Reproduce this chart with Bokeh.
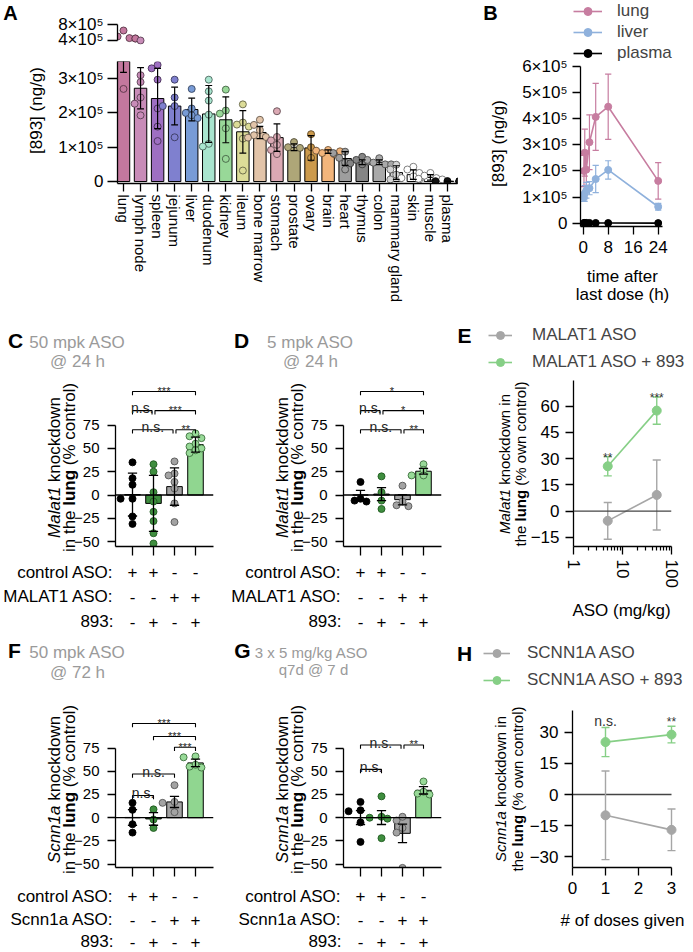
import math
import numpy as np
from bokeh.plotting import figure
from bokeh.layouts import row, column
from bokeh.models import Range1d, FixedTicker, Legend, LegendItem, Span
from bokeh.core.properties import value
from bokeh.embed import file_html
from bokeh.resources import INLINE

FONT = "Liberation Sans"

# ============================ DATA ============================
# ---- A: [893] in tissues (ng/g)
organs = ["lung", "lymph node", "spleen", "jejunum", "liver", "duodenum", "kidney", "ileum",
          "bone marrow", "stomach", "prostate", "ovary", "brain", "heart", "thymus", "colon",
          "mammary gland", "skin", "muscle", "plasma"]
organ_mean = [4.63e5, 2.72e5, 2.42e5, 2.2e5, 2.1e5, 1.97e5, 1.8e5, 1.45e5, 1.43e5, 1.28e5,
              1.0e5, 0.98e5, 0.87e5, 0.67e5, 0.56e5, 0.56e5, 0.26e5, 0.2e5, 0.12e5, 0.01e5]
organ_sd = [1.45e5, 0.6e5, 0.88e5, 0.55e5, 0.33e5, 0.83e5, 0.67e5, 0.62e5, 0.18e5, 0.4e5,
            0.1e5, 0.36e5, 0.05e5, 0.2e5, 0.07e5, 0.07e5, 0.2e5, 0.14e5, 0.08e5, 0.005e5]
organ_points = [
    [6.5e5, 5.0e5, 4.6e5, 4.5e5, 4.5e5, 2.7e5],
    [4.0e5, 3.1e5, 2.9e5, 2.45e5, 2.27e5, 1.93e5],
    [3.4e5, 3.3e5, 2.97e5, 2.13e5, 1.6e5, 1.18e5],
    [2.97e5, 2.45e5, 2.2e5, 2.2e5, 1.29e5],
    [2.7e5, 2.13e5, 2.0e5, 1.93e5, 1.85e5],
    [2.97e5, 2.63e5, 2.36e5, 1.95e5, 1.1e5, 1.02e5],
    [2.68e5, 2.07e5, 1.98e5, 1.55e5, 0.66e5],
    [2.25e5, 1.72e5, 1.66e5, 1.6e5, 1.25e5, 0.32e5],
    [1.8e5, 1.65e5, 1.5e5, 1.35e5, 1.3e5, 1.28e5],
    [2.05e5, 1.3e5, 1.2e5, 1.07e5, 0.92e5, 0.8e5],
    [1.15e5, 1.0e5, 0.98e5],
    [1.38e5, 1.0e5, 0.69e5],
    [0.92e5, 0.9e5, 0.88e5, 0.83e5, 0.8e5],
    [0.87e5, 0.83e5, 0.69e5, 0.55e5, 0.35e5],
    [0.72e5, 0.63e5, 0.58e5, 0.53e5, 0.5e5],
    [0.68e5, 0.63e5, 0.55e5, 0.5e5, 0.5e5],
    [0.49e5, 0.35e5, 0.2e5, 0.06e5],
    [0.43e5, 0.35e5, 0.25e5, 0.15e5, 0.1e5, 0.06e5],
    [0.25e5, 0.17e5, 0.1e5, 0.08e5, 0.06e5],
    [0.012e5, 0.01e5, 0.01e5, 0.008e5, 0.01e5],
]
organ_colors = ["#c4789e", "#c88cb8", "#9e6fc2", "#7f80cf", "#789bd6", "#a9e5cf", "#98d898",
                "#dcdc98", "#e2c4a9", "#dba9b4", "#aea678", "#cc9a4c", "#f2b57b", "#9e9e9e",
                "#858585", "#a9a9a9", "#d4d4d4", "#ffffff", "#ffffff", "#111111"]
a_ticks_low = [0, 1e5, 2e5, 3e5]
a_labels_low = ["0", "1×10⁵", "2×10⁵", "3×10⁵"]
a_ticks_high = [4e5, 8e5]
a_labels_high = ["4×10⁵", "8×10⁵"]

# ---- B: time course (ng/g)
time_h = [0.25, 0.5, 1, 2, 4, 8, 24]
lung_mean = [2.0e5, 2.7e5, 2.05e5, 3.1e5, 4.07e5, 4.46e5, 1.62e5]
lung_sd = [0.6e5, 0.9e5, 0.6e5, 1.05e5, 1.28e5, 1.25e5, 0.7e5]
liver_mean = [0.98e5, 1.14e5, 1.26e5, 1.34e5, 1.69e5, 2.04e5, 0.63e5]
liver_sd = [0.15e5, 0.3e5, 0.3e5, 0.25e5, 0.52e5, 0.35e5, 0.13e5]
plasma_mean = [1.2e3, 1.0e3, 1.1e3, 0.9e3, 0.8e3, 0.6e3, 0.3e3]
plasma_sd = [0.5e3, 0.5e3, 0.5e3, 0.4e3, 0.4e3, 0.3e3, 0.2e3]
b_series = ["lung", "liver", "plasma"]
b_y_ticks = [0, 1e5, 2e5, 3e5, 4e5, 5e5, 6e5]
b_y_labels = ["0", "1×10⁵", "2×10⁵", "3×10⁵", "4×10⁵", "5×10⁵", "6×10⁵"]
b_x_ticks = [0, 8, 16, 24]

# ---- C-D / F-G: group design
control_aso = ["+", "+", "-", "-"]
target_aso = ["-", "-", "+", "+"]
drug_893 = ["-", "+", "-", "+"]

c_mean = [0.5, -9.0, 9.0, 54.0]
c_sd = [23.0, 30.0, 20.0, 8.0]
c_points = [[35, 18, 11, -4, -4, -23, -31], [33, 25, 3, -7, -18, -28, -41, -52],
            [36, 23, 21, 14, 7, -9, -29], [66, 63, 61, 55, 52, 50, 48, 45]]
c_sig = [(0, 3, "***"), (0, 1, "n.s."), (1, 3, "***"), (0, 2, "n.s."), (2, 3, "**")]

d_mean = [0.0, 1.0, -5.0, 25.5]
d_sd = [5.0, 7.0, 5.5, 3.0]
d_points = [[14, -4, -6, -7], [20, 3, -6, -15], [10, -7, -11, -12], [33, 27, 21, 21]]
d_sig = [(0, 3, "*"), (0, 1, "n.s."), (1, 3, "*"), (0, 2, "n.s."), (2, 3, "**")]

f_mean = [0.3, -1.3, 17.0, 59.0]
f_sd = [8.5, 6.8, 6.0, 4.0]
f_points = [[16, 8.5, -7, -16], [9, -2, -11], [35, 17, 16, 6], [66, 65, 57, 55, 54]]
f_sig = [(0, 3, "***"), (1, 3, "***"), (2, 3, "***"), (0, 2, "n.s."), (0, 1, "n.s.")]

g_mean = [0.2, 0.2, -16.8, 29.5]
g_sd = [7.5, 7.5, 10.0, 4.0]
g_points = [[17, 8, 7, -5, -26], [23, 1, 0, -1, -22], [1, -3, -11, -16, -54], [39, 28, 26, 25]]
g_sig = [(0, 2, "n.s."), (2, 3, "**"), (0, 1, "n.s.")]

bar_y_ticks = [-50, -25, 0, 25, 50, 75]

# ---- E: dose response
e_dose = [5, 50]
e_aso_mean = [-5.5, 9.3]
e_aso_sd = [10.5, 20.0]
e_combo_mean = [25.7, 57.5]
e_combo_sd = [5.5, 7.8]
e_sig = ["**", "***"]
e_names = ["MALAT1 ASO", "MALAT1 ASO + 893"]
e_y_ticks = [-15, 0, 15, 30, 45, 60]

# ---- H: number of doses
h_doses = [1, 3]
h_aso_mean = [-10.0, -17.0]
h_aso_sd = [21.3, 10.0]
h_combo_mean = [25.2, 28.8]
h_combo_sd = [7.0, 4.0]
h_sig = ["n.s.", "**"]
h_names = ["SCNN1A ASO", "SCNN1A ASO + 893"]
h_y_ticks = [-30, -15, 0, 15, 30]
h_x_ticks = [0, 1, 2, 3]

# ============================ STYLE ============================
GRAY_T = "#9a9a9a"
GROUP_BAR = ["#111111", "#3f8e3f", "#a3a3a3", "#90d690"]
GROUP_DOT = ["#000000", "#3f8e3f", "#a3a3a3", "#98da98"]
GROUP_EDGE = ["#000000", "#1f5a1f", "#555555", "#3c6e3c"]
LINE_GRAY = "#a6a6a6"
LINE_GREEN = "#86cf86"
B_COLORS = ["#c77da0", "#8fb1dc", "#000000"]
PAGE_W, PAGE_H = 693, 952

W_REG = {' ': 278, '!': 278, '#': 556, '%': 889, '(': 333, ')': 333, '+': 584, '.': 278,
         '/': 278, ':': 278, '@': 1015, '-': 333, '[': 278, ']': 278, '×': 584,
         'A': 667, 'B': 667, 'C': 722, 'D': 722, 'E': 667, 'F': 611, 'G': 778, 'H': 722,
         'I': 278, 'K': 667, 'L': 556, 'M': 833, 'N': 722, 'O': 778, 'P': 667, 'S': 667,
         'T': 611, 'a': 556, 'b': 556, 'c': 500, 'd': 556, 'e': 556, 'f': 278, 'g': 556,
         'h': 556, 'i': 222, 'k': 500, 'l': 222, 'm': 833, 'n': 556, 'o': 556, 'p': 556,
         'r': 333, 's': 500, 't': 278, 'u': 556, 'w': 722, 'y': 500}
W_BOLD = {'l': 278, 'u': 611, 'n': 611, 'g': 611}


def tw(t, st, size):
    tot = 0
    for ch in t:
        if st == "bold" and ch in W_BOLD:
            tot += W_BOLD[ch]
        else:
            tot += W_REG.get(ch, 556)
    return tot * size / 1000.0


def darken(hx, f=0.5):
    hx = hx.lstrip('#')
    r, g, b = int(hx[0:2], 16), int(hx[2:4], 16), int(hx[4:6], 16)
    return "#%02x%02x%02x" % (int(r * f), int(g * f), int(b * f))


def swarm(vals, ppu_y, ppu_x, diam=7.0, kmax=2):
    order = np.argsort(-np.asarray(vals))
    placed = []
    offs = np.zeros(len(vals))
    step = diam * 0.85
    cands = [0]
    for k in range(1, kmax + 1):
        cands += [-k, k]
    for i in order:
        py = vals[i] * ppu_y
        best = cands[-1] * step
        for c in cands:
            px = c * step
            if all((px - qx) ** 2 + (py - qy) ** 2 >= (diam * 0.9) ** 2 for qx, qy in placed):
                best = px
                break
        placed.append((best, py))
        offs[i] = best / ppu_x
    return offs


def mkfig(g, xr, yr, x_axis=True, x_log=False, tick_size=16):
    kw = dict(width=g["W"], height=g["H"], x_range=xr, y_range=yr,
              output_backend="svg", toolbar_location=None,
              min_border_left=g["fl"], min_border_right=g["W"] - g["fr"],
              min_border_top=g["ft"], min_border_bottom=g["H"] - g["fb"])
    if x_log:
        kw["x_axis_type"] = "log"
    if not x_axis:
        kw["x_axis_location"] = None
    p = figure(**kw)
    p.outline_line_color = None
    p.grid.visible = False
    p.background_fill_color = "white"
    p.border_fill_color = "white"
    for ax in p.axis:
        ax.axis_line_color = "black"
        ax.axis_line_width = 1.3
        ax.major_tick_line_color = "black"
        ax.major_tick_line_width = 1.3
        ax.major_tick_in = 0
        ax.major_tick_out = 8
        ax.minor_tick_line_color = None
        ax.major_label_text_font = FONT
        ax.major_label_text_font_size = f"{tick_size}px"
        ax.major_label_text_color = "black"
    return p


def errbars(p, x, m, s, cw, color, width=1.3, log=False):
    x = np.asarray(x, float)
    m = np.asarray(m, float)
    s = np.asarray(s, float)
    if log:
        xl, xr_ = x / cw, x * cw
    else:
        xl, xr_ = x - cw, x + cw
    p.segment(x, m - s, x, m + s, line_color=color, line_width=width)
    p.segment(xl, m + s, xr_, m + s, line_color=color, line_width=width)
    p.segment(xl, m - s, xr_, m - s, line_color=color, line_width=width)


# ---- transparent overlay figure that carries the texts outside the plot frames
ov = figure(width=PAGE_W, height=PAGE_H, x_range=Range1d(0, PAGE_W), y_range=Range1d(0, PAGE_H),
            output_backend="svg", toolbar_location=None, min_border=0,
            x_axis_location=None, y_axis_location=None)
ov.outline_line_color = None
ov.grid.visible = False
ov.background_fill_alpha = 0
ov.border_fill_alpha = 0
ov.margin = (-PAGE_H, 0, 0, 0)


def T(cx, cy, text, size=17, align="center", style="normal", color="black", angle=0.0):
    ov.text(x=[cx], y=[PAGE_H - cy], text=[text], text_font=value(FONT),
            text_font_size=value(f"{size}px"), text_font_style=value(style),
            text_color=value(color), text_align=value(align), text_baseline=value("middle"),
            angle=angle)


def TV(cx, cy, segs, size):
    total = sum(tw(t, st, size) for t, st in segs)
    pos = cy + total / 2.0
    for t, st in segs:
        lead = len(t) - len(t.lstrip(' '))
        trail = len(t) - len(t.rstrip(' '))
        pos -= lead * 0.278 * size
        core = t.strip(' ')
        T(cx, pos, core, size, align="left", style=st, angle=math.pi / 2)
        pos -= tw(core, st, size)
        pos -= trail * 0.278 * size


def LEG(x_left, y_top, names, colors, glyph_w, standoff, size, spacing, msize):
    items = []
    for n, c in zip(names, colors):
        # legend keys (drawn off-page; only their styles are shown in the legend)
        rl = ov.line(x=[-60, -50], y=[-60, -60], line_color=c, line_width=1.6)
        rs = ov.scatter(x=[-55], y=[-60], size=msize, fill_color=c, line_color=c)
        items.append(LegendItem(label=n, renderers=[rl, rs]))
    h = len(names) * 20 + (len(names) - 1) * spacing
    ov.add_layout(Legend(items=items, location=(x_left, PAGE_H - (y_top + h)), padding=0,
                         margin=0, spacing=spacing, glyph_width=glyph_w, glyph_height=20,
                         label_height=20, label_standoff=standoff, label_text_font=FONT,
                         label_text_font_size=f"{size}px", border_line_color=None,
                         background_fill_alpha=0))


# ============================ PANEL A ============================
sp_a = 17.05
xa0 = -6.0 / sp_a
xr_a = Range1d(xa0, xa0 + 340.0 / sp_a)
gAt = dict(W=470, H=48, fl=117, fr=457, ft=22, fb=44)
gAb = dict(W=470, H=257, fl=117, fr=457, ft=13, fb=136)
sct = 16.0 / 4e5
pAt = mkfig(gAt, xr_a, Range1d(4e5 - 4 / sct, 8e5 + 2 / sct), x_axis=False, tick_size=17)
scb = 121.0 / 3.5e5
pAb = mkfig(gAb, xr_a, Range1d(-2.0 / scb, 3.5e5), tick_size=17)

idx_a = np.arange(len(organs))
pAb.vbar(x=idx_a, bottom=0, top=organ_mean, width=0.73, fill_color=organ_colors,
         line_color="black", line_width=1)
for i, pts in enumerate(organ_points):
    v = np.asarray(pts, float)
    edge = darken(organ_colors[i], 0.45)
    lo = v[v < 3.5e5]
    hi = v[v >= 3.9e5]
    if len(lo):
        pAb.scatter(i + swarm(lo, scb, sp_a, 7.0, 2), lo, size=7, fill_color=organ_colors[i],
                    line_color=edge, line_width=0.9)
    if len(hi):
        pAt.scatter(i + swarm(hi, sct, sp_a, 7.0, 2), hi, size=7, fill_color=organ_colors[i],
                    line_color=edge, line_width=0.9)
errbars(pAb, idx_a, organ_mean, organ_sd, 0.2, "black", 1.2)

ax = pAb.yaxis[0]
ax.ticker = FixedTicker(ticks=a_ticks_low)
ax.major_label_overrides = {int(t): l for t, l in zip(a_ticks_low, a_labels_low)}
ax.bounds = (-2.0 / scb, 3.5e5)
ax.major_tick_out = 10
ax.major_label_standoff = 4
ax = pAt.yaxis[0]
ax.ticker = FixedTicker(ticks=a_ticks_high)
ax.major_label_overrides = {int(t): l for t, l in zip(a_ticks_high, a_labels_high)}
ax.bounds = (4e5, 8e5)
ax.major_tick_out = 10
ax.major_label_standoff = 4
ax = pAb.xaxis[0]
ax.ticker = FixedTicker(ticks=[int(i) for i in idx_a])
ax.major_label_overrides = {int(i): o for i, o in zip(idx_a, organs)}
ax.major_label_orientation = "vertical"
ax.major_label_text_font_size = "15px"
ax.major_tick_out = 8
ax.major_label_standoff = 3

T(10, 12, "A", 20, style="bold")
T(36, 110, "[893] (ng/g)", 17, angle=math.pi / 2)

# ============================ PANEL B ============================
BX = 470
gB = dict(W=223, H=305, fl=110, fr=192, ft=63, fb=226)
b_y0, b_sc, b_x0, b_sx = 222.7, 26.12 / 1e5, 112.7, 3.125
pB = mkfig(gB, Range1d((gB["fl"] - b_x0) / b_sx, (gB["fr"] - b_x0) / b_sx),
           Range1d(-(gB["fb"] - b_y0) / b_sc, (b_y0 - gB["ft"]) / b_sc), tick_size=17)
for name, mm, ss, col in zip(b_series, [lung_mean, liver_mean, plasma_mean],
                             [lung_sd, liver_sd, plasma_sd], B_COLORS):
    errbars(pB, time_h, mm, ss, 1.0, col, 1.2)
    pB.line(time_h, mm, line_color=col, line_width=1.6)
    pB.scatter(time_h, mm, size=7, fill_color=col, line_color=col)
ax = pB.yaxis[0]
ax.ticker = FixedTicker(ticks=b_y_ticks)
ax.major_label_overrides = {int(t): l for t, l in zip(b_y_ticks, b_y_labels)}
ax.bounds = (-(gB["fb"] - b_y0) / b_sc, 6e5)
ax.major_label_standoff = 5
ax = pB.xaxis[0]
ax.ticker = FixedTicker(ticks=b_x_ticks)
ax.major_label_standoff = 6
T(490, 12, "B", 20, style="bold")
T(498, 143, "[893] (ng/g)", 17, angle=math.pi / 2)
T(622, 276, "time after", 17)
T(622, 294, "last dose (h)", 17)
LEG(573, 1, b_series, B_COLORS, 29, 15, 17, 1, 7)


# ============================ BAR PANELS ============================
def bar_panel(g, ox, oy, means, sds, points, sig, sig_levels, rownames, ylab1, ylab2,
              title, title_size, letter):
    sp = 21.0
    xs = -17.0 / sp
    xe = xs + (g["fr"] - g["fl"]) / sp
    sc = g["sc"]
    ys = -(g["fb"] - g["y0"]) / sc
    ye = (g["y0"] - g["ft"]) / sc
    p = mkfig(g, Range1d(xs, xe), Range1d(ys, ye), tick_size=15)
    idx = np.arange(len(means))
    m = np.asarray(means, float)
    p.add_layout(Span(location=0, dimension="width", line_color="black", line_width=1.3))
    p.vbar(x=idx, bottom=0, top=m, width=0.74, fill_color=GROUP_BAR, line_color="black",
           line_width=1)
    for i, vals in enumerate(points):
        v = np.asarray(vals, float)
        p.scatter(i + swarm(v, sc, sp, 7.0, 2), v, size=7, fill_color=GROUP_DOT[i],
                  line_color=GROUP_EDGE[i], line_width=0.9)
    errbars(p, idx, means, sds, 0.22, "black", 1.3)
    tick = 5.0 / sc
    for (i, j, txt), lev in zip(sig, sig_levels):
        x0, x1 = float(i), float(j)
        if any(b[0] == j and l2 == lev for b, l2 in zip(sig, sig_levels)):
            x1 -= 0.07
        if any(b[1] == i and l2 == lev for b, l2 in zip(sig, sig_levels)):
            x0 += 0.07
        p.line([x0, x0, x1, x1], [lev - tick, lev, lev, lev - tick], line_color="black",
               line_width=1.1)
        if txt == "n.s.":
            ty, size = lev + 3.0 / sc, 14
        else:
            ty, size = lev + 1.0 / sc, 11
        p.text(x=[(x0 + x1) / 2], y=[ty], text=[txt], text_font=value(FONT),
               text_font_size=value(f"{size}px"), text_align=value("center"),
               text_baseline=value("alphabetic"), text_color=value("#222222"))
    ax = p.yaxis[0]
    ax.ticker = FixedTicker(ticks=bar_y_ticks)
    ax.bounds = (ys, 75)
    ax.major_label_standoff = 8
    signs = [control_aso, target_aso, drug_893]
    ax = p.xaxis[0]
    ax.ticker = FixedTicker(ticks=[int(i) for i in idx])
    ax.major_label_overrides = {int(i): t for i, t in zip(idx, signs[0])}
    ax.major_tick_out = 9
    ax.major_label_standoff = g["std"]
    ax.major_label_text_font_size = "17px"
    # further rows of the design table, aligned with the category positions
    for r in (1, 2):
        for i, t in zip(idx, signs[r]):
            T(ox + g["fl"] + (i - xs) * sp, oy + g["rows"][r], t, 17)
    for r, name in enumerate(rownames):
        T(ox + g["rowx"], oy + g["rows"][r], name, 17, align="right")
    TV(ox + g["yl1"], oy + g["ylc"], ylab1, 17)
    TV(ox + g["yl2"], oy + g["ylc"], ylab2, 17)
    for k, line in enumerate(title):
        T(ox + g["tcx"][k], oy + g["ty"][k], line, title_size, color=GRAY_T)
    T(ox + g["lx"], oy + g["ly"], letter, 21, style="bold")
    return p


ylab_malat = ([("Malat1", "italic"), (" knockdown", "normal")],
              [("in the ", "normal"), ("lung", "bold"), (" (% control)", "normal")])
ylab_scnn = ([("Scnn1a", "italic"), (" knockdown", "normal")],
             [("in the ", "normal"), ("lung", "bold"), (" (% control)", "normal")])

gC = dict(W=228, H=327, fl=115, fr=213, ft=25, fb=241, y0=174, sc=91 / 75.0,
          rows=[267, 291, 316], rowx=113, std=10, yl1=54, yl2=69, ylc=162,
          tcx=[77, 77], ty=[37, 56], lx=15, ly=35)
pC = bar_panel(gC, 0, 305, c_mean, c_sd, c_points, c_sig, [111, 90.5, 90.5, 70, 70],
               ["control ASO:", "MALAT1 ASO:", "893:"], ylab_malat[0], ylab_malat[1],
               ["50 mpk ASO", "@ 24 h"], 17, "C")
gD = dict(gC)
gD.update(tcx=[82, 82], lx=13)
pD = bar_panel(gD, 228, 305, d_mean, d_sd, d_points, d_sig, [111, 90.5, 90.5, 70, 70],
               ["control ASO:", "MALAT1 ASO:", "893:"], ylab_malat[0], ylab_malat[1],
               ["5 mpk ASO", "@ 24 h"], 17, "D")
gF = dict(W=228, H=320, fl=115, fr=213, ft=30, fb=235, y0=170, sc=91 / 75.0,
          rows=[264, 287, 309], rowx=113, std=13, yl1=54, yl2=69, ylc=157,
          tcx=[77, 77], ty=[20, 40], lx=14, ly=18)
pF = bar_panel(gF, 0, 632, f_mean, f_sd, f_points, f_sig, [101.4, 87.4, 75.8, 47, 23.9],
               ["control ASO:", "Scnn1a ASO:", "893:"], ylab_scnn[0], ylab_scnn[1],
               ["50 mpk ASO", "@ 72 h"], 17, "F")
gG = dict(gF)
gG.update(tcx=[83, 85], ty=[20, 37], lx=14)
pG = bar_panel(gG, 228, 632, g_mean, g_sd, g_points, g_sig, [78.3, 78.3, 52],
               ["control ASO:", "Scnn1a ASO:", "893:"], ylab_scnn[0], ylab_scnn[1],
               ["3 x 5 mg/kg ASO", "q7d @ 7 d"], 15, "G")


# ============================ LINE PANELS ============================
def line_panel(g, ox, oy, xv, m1, s1, m2, s2, sig, sig_dy, names, ylab1, ylab2, xlabel,
               letter, xr, x_log, cw):
    sc = g["sc"]
    p = mkfig(g, xr, Range1d(-(g["fb"] - g["y0"]) / sc, (g["y0"] - g["ft"]) / sc),
              x_log=x_log, tick_size=17)
    if x_log:
        p.add_layout(Span(location=0, dimension="width", line_color="#444444", line_width=1.3))
    else:
        p.segment(x0=[0], y0=[0], x1=[3], y1=[0], line_color="#444444", line_width=1.3)
    for mm, ss, col in ((m1, s1, LINE_GRAY), (m2, s2, LINE_GREEN)):
        errbars(p, xv, mm, ss, cw, col, 1.4, log=x_log)
        p.line(xv, mm, line_color=col, line_width=1.6)
        p.scatter(xv, mm, size=9, fill_color=col, line_color=col)
    top = np.asarray(m2, float) + np.asarray(s2, float)
    for x, t, txt in zip(xv, top, sig):
        if txt == "n.s.":
            base, size = t + (sig_dy - 3.5) / sc, 14
        else:
            base, size = t + (sig_dy - 6.0) / sc, 12
        p.text(x=[x], y=[base], text=[txt], text_font=value(FONT),
               text_font_size=value(f"{size}px"), text_align=value("center"),
               text_baseline=value("alphabetic"), text_color=value("#333333"))
    LEG(ox + g["lgx"], oy + g["lgy"], names, [LINE_GRAY, LINE_GREEN], g["lgw"], g["lgs"],
        17, 7, 9)
    TV(ox + g["yl1"], oy + g["ylc"], ylab1, 15)
    TV(ox + g["yl2"], oy + g["ylc"], ylab2, 15)
    T(ox + g["xlx"], oy + g["xly"], xlabel, 17)
    T(ox + g["lx"], oy + g["ly"], letter, 21, style="bold")
    return p


gE = dict(W=237, H=327, fl=117, fr=215, ft=75, fb=242, y0=206.5, sc=26.4 / 15,
          lgx=32, lgy=20, lgw=24, lgs=20, yl1=48, yl2=64, ylc=158.5, xlx=165, xly=305,
          lx=8, ly=30)
pE = line_panel(gE, 456, 305, e_dose, e_aso_mean, e_aso_sd, e_combo_mean, e_combo_sd, e_sig,
                5, e_names,
                [("Malat1", "italic"), (" knockdown in", "normal")],
                [("the ", "normal"), ("lung", "bold"), (" (% own control)", "normal")],
                "ASO (mg/kg)", "E", Range1d(1, 100), True, 10 ** (4 / 48.5))
ax = pE.xaxis[0]
ax.ticker = FixedTicker(ticks=[1, 10, 100],
                        minor_ticks=[2, 3, 4, 5, 6, 7, 8, 9, 20, 30, 40, 50, 60, 70, 80, 90])
ax.major_label_overrides = {1: "1", 10: "10", 100: "100"}
ax.major_label_orientation = "vertical"
ax.minor_tick_line_color = "black"
ax.minor_tick_line_width = 1.2
ax.minor_tick_in = 0
ax.minor_tick_out = 4
ax.major_label_standoff = 5
ax = pE.yaxis[0]
ax.ticker = FixedTicker(ticks=e_y_ticks)
ax.major_label_standoff = 6

gH = dict(W=237, H=320, fl=116, fr=223, ft=78, fb=235, y0=162, sc=31.2 / 15,
          lgx=27, lgy=11, lgw=27, lgs=17, yl1=44, yl2=61, ylc=156.5, xlx=166, xly=288,
          lx=8, ly=21)
h_sx = 33.0
pH = line_panel(gH, 456, 632, h_doses, h_aso_mean, h_aso_sd, h_combo_mean, h_combo_sd,
                h_sig, 10, h_names,
                [("Scnn1a", "italic"), (" knockdown in", "normal")],
                [("the ", "normal"), ("lung", "bold"), (" (% own control)", "normal")],
                "# of doses given", "H", Range1d(0, (gH["fr"] - gH["fl"]) / h_sx), False,
                4 / h_sx)
ax = pH.xaxis[0]
ax.ticker = FixedTicker(ticks=h_x_ticks)
ax.bounds = (0, 3)
ax.major_label_standoff = 6
ax = pH.yaxis[0]
ax.ticker = FixedTicker(ticks=h_y_ticks)
ax.major_label_standoff = 6

# ============================ LAYOUT ============================
main = column(row(column(pAt, pAb), pB), row(pC, pD, pE), row(pF, pG, pH))
lay = column(main, ov)
open("out.html", "w").write(file_html(lay, INLINE))
